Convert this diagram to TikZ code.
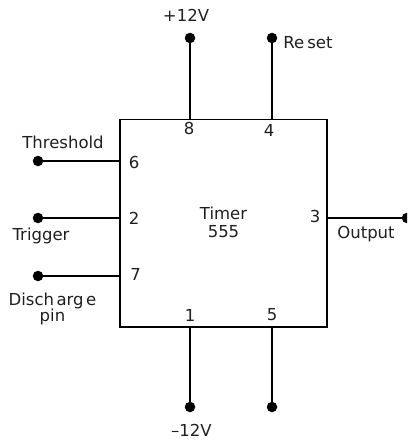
\documentclass[tikz,border=0pt]{standalone}
\usepackage{fontspec}
\setmainfont{DejaVu Sans}
\tikzset{
  x=1pt,y=-1pt,
  chip/.style={draw,line width=1.4pt,minimum width=207pt,minimum height=207.5pt,inner sep=0pt,outer sep=0pt},
  term/.style={circle,fill=black,draw=none,minimum size=10.5pt,inner sep=0pt,outer sep=0pt},
  wire/.style={line width=1.5pt},
  lab/.style={inner sep=0pt,outer sep=0pt,font=\fontsize{16.5}{16}\selectfont,align=center,text=black!88}
}
\begin{document}
\begin{tikzpicture}
\useasboundingbox (0,0) rectangle (407,441);
\clip (0,0) rectangle (407,441);
\node[chip] (box) at (223.5,223.3) {};
\node[term] (t8) at (190,38) {};
\node[term] (t4) at (272,38) {};
\node[term] (t6) at (38,161) {};
\node[term] (t2) at (38,218) {};
\node[term] (t7) at (38,276) {};
\node[term] (t1) at (190,407) {};
\node[term] (t5) at (272,407) {};
\node[term] (t3) at (407,218) {};
\draw[wire] (t8) -- (t8 |- box.north);
\draw[wire] (t4) -- (t4 |- box.north);
\draw[wire] (t1) -- (t1 |- box.south);
\draw[wire] (t5) -- (t5 |- box.south);
\draw[wire] (t6) -- (t6 -| box.west);
\draw[wire] (t2) -- (t2 -| box.west);
\draw[wire] (t7) -- (t7 -| box.west);
\draw[wire] (t3) -- (t3 -| box.east);
\node[lab] (lp12) at (186,15) {+12V};
\node[lab] (lreset) at (308,43) {Re\kern3pt set};
\node[lab] (lthr) at (63,142) {Threshold};
\node[lab] (ltrig) at (41,236) {Trigger};
\node[lab] (ldis) at (52.5,309) {Disch\kern2.5pt arg\kern2.5pt e\\pin};
\node[lab] (lm12) at (191.5,430) {–12V};
\node[lab] (lout) at (366,234) {Output};
\node[lab] (ltimer) at (223.5,222) {Timer\\[2pt]555};
\node[lab] (p8) at (189,128) {8};
\node[lab] (p4) at (269,130) {4};
\node[lab] (p6) at (134,162) {6};
\node[lab] (p2) at (134,218) {2};
\node[lab] (p7) at (135.5,274) {7};
\node[lab] (p1) at (190,315) {1};
\node[lab] (p5) at (272,315) {5};
\node[lab] (p3) at (315,216) {3};
\end{tikzpicture}
\end{document}
